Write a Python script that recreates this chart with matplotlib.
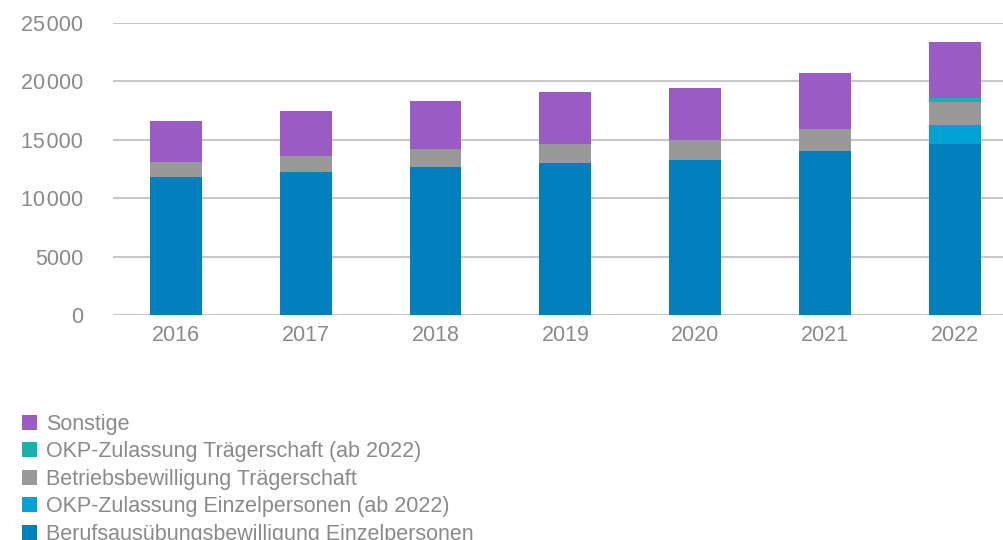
import matplotlib
matplotlib.use("Agg")
import matplotlib.pyplot as plt
from matplotlib.patches import Patch
from matplotlib.ticker import FuncFormatter

plt.rcParams['font.family'] = ['Liberation Sans', 'DejaVu Sans']

years = ["2016", "2017", "2018", "2019", "2020", "2021", "2022"]
beruf = [11800, 12250, 12700, 13050, 13300, 14000, 14600]
okp_einzel = [0, 0, 0, 0, 0, 0, 1700]
betrieb = [1300, 1400, 1550, 1600, 1700, 1950, 1950]
okp_traeger = [0, 0, 0, 0, 0, 0, 350]
sonstige = [3500, 3850, 4100, 4400, 4450, 4750, 4800]

labels = [
    "Berufsausübungsbewilligung Einzelpersonen",
    "OKP-Zulassung Einzelpersonen (ab 2022)",
    "Betriebsbewilligung Trägerschaft",
    "OKP-Zulassung Trägerschaft (ab 2022)",
    "Sonstige",
]
series = [beruf, okp_einzel, betrieb, okp_traeger, sonstige]
colors = ["#0080bd", "#00a3d4", "#999999", "#14b4aa", "#9a5cc4"]

TXT = "#8a8a8a"
FS = 15.5
fig = plt.figure(figsize=(10.04, 5.40), dpi=100)
ax = fig.add_axes([113/1004, (540-315)/540, (1004-113)/1004, (315-23)/540])

x = list(range(len(years)))
bottom = [0]*len(years)
for vals, col in zip(series, colors):
    ax.bar(x, vals, bottom=bottom, width=0.4, color=col, zorder=3, linewidth=0)
    bottom = [b+v for b, v in zip(bottom, vals)]

ax.set_ylim(0, 25000)
ax.set_xlim(-0.485, 6.38)
ax.set_yticks([0, 5000, 10000, 15000, 20000, 25000])

def fmt(v, pos):
    v = int(v)
    if v >= 10000:
        return f"{v:,}".replace(",", "\u200a")
    return str(v)
ax.yaxis.set_major_formatter(FuncFormatter(fmt))
ax.set_xticks(x)
ax.set_xticklabels(years)
ax.grid(axis='y', color='#c8c8c8', linewidth=1.5, zorder=0)
for s in ax.spines.values():
    s.set_visible(False)
ax.tick_params(axis='both', length=0, labelsize=FS, colors=TXT)
ax.tick_params(axis='y', pad=21.5)
ax.tick_params(axis='x', pad=7)

handles = [Patch(facecolor=c, edgecolor='none') for c in colors][::-1]
leg = fig.legend(handles, labels[::-1], loc='upper left',
                 bbox_to_anchor=(22/1004, 1-414/540), frameon=False,
                 fontsize=FS, handlelength=0.7, handleheight=0.7,
                 handletextpad=0.42, labelspacing=0.3, borderpad=0,
                 borderaxespad=0)
for t in leg.get_texts():
    t.set_color(TXT)

fig.savefig("out.png", dpi=100)
